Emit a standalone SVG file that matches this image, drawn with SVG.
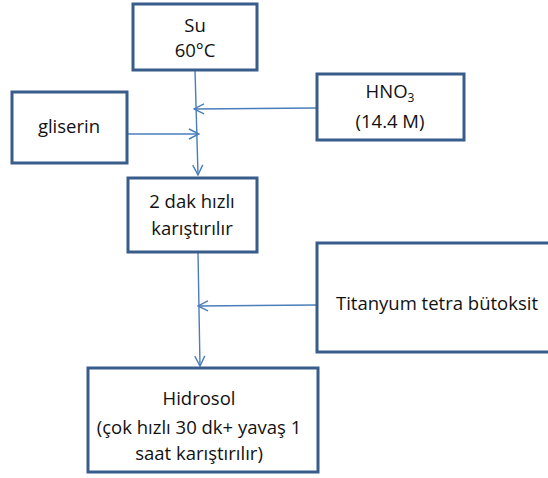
<svg xmlns="http://www.w3.org/2000/svg" width="548" height="478" viewBox="0 0 548 478">
  <defs>
    <marker id="open" viewBox="0 0 12 12" refX="11" refY="6" markerWidth="12" markerHeight="12" markerUnits="userSpaceOnUse" orient="auto">
      <path d="M1,1 L11,6 L1,11" fill="none" stroke="#4A7EBB" stroke-width="1.4"/>
    </marker>
    <style>
      .box { fill: #ffffff; stroke: #385D8A; stroke-width: 3; }
      .lbl { font-family: "Open Sans", Lato, "Liberation Sans", sans-serif; font-size: 18.5px; fill: #111111; text-anchor: middle; }
      .conn { fill: none; stroke: #4A7EBB; stroke-width: 1.4; marker-end: url(#open); }
    </style>
  </defs>
  <rect width="548" height="478" fill="#ffffff"/>

  <g id="connectors">
    <path class="conn" d="M195,70 L198,175"/>
    <path class="conn" d="M317,108 L194,109"/>
    <path class="conn" d="M127,134 L199,134"/>
    <path class="conn" d="M198,252 L200,366"/>
    <path class="conn" d="M317,305 L198,306"/>
  </g>

  <g id="su">
    <rect class="box" x="133" y="4" width="124" height="66"/>
    <text class="lbl" x="195" y="32">Su</text>
    <text class="lbl" x="195" y="57">60°C</text>
  </g>

  <g id="gliserin">
    <rect class="box" x="12" y="92" width="115" height="71"/>
    <text class="lbl" x="69" y="133">gliserin</text>
  </g>

  <g id="hno3">
    <rect class="box" x="317" y="74" width="147" height="66"/>
    <text class="lbl" x="390" y="98">HNO<tspan font-size="12" dy="4">3</tspan></text>
    <text class="lbl" x="390" y="128">(14.4 M)</text>
  </g>

  <g id="karistir">
    <rect class="box" x="128" y="178" width="129" height="74"/>
    <text class="lbl" x="192" y="208">2 dak hızlı</text>
    <text class="lbl" x="192" y="235">karıştırılır</text>
  </g>

  <g id="titanyum">
    <rect class="box" x="317" y="243" width="236" height="109"/>
    <text class="lbl" x="437" y="310">Titanyum tetra bütoksit</text>
  </g>

  <g id="hidrosol">
    <rect class="box" x="88" y="368" width="230" height="104"/>
    <text class="lbl" x="199" y="405">Hidrosol</text>
    <text class="lbl" x="199" y="434">(çok hızlı 30 dk+ yavaş 1</text>
    <text class="lbl" x="199" y="460">saat karıştırılır)</text>
  </g>
</svg>
